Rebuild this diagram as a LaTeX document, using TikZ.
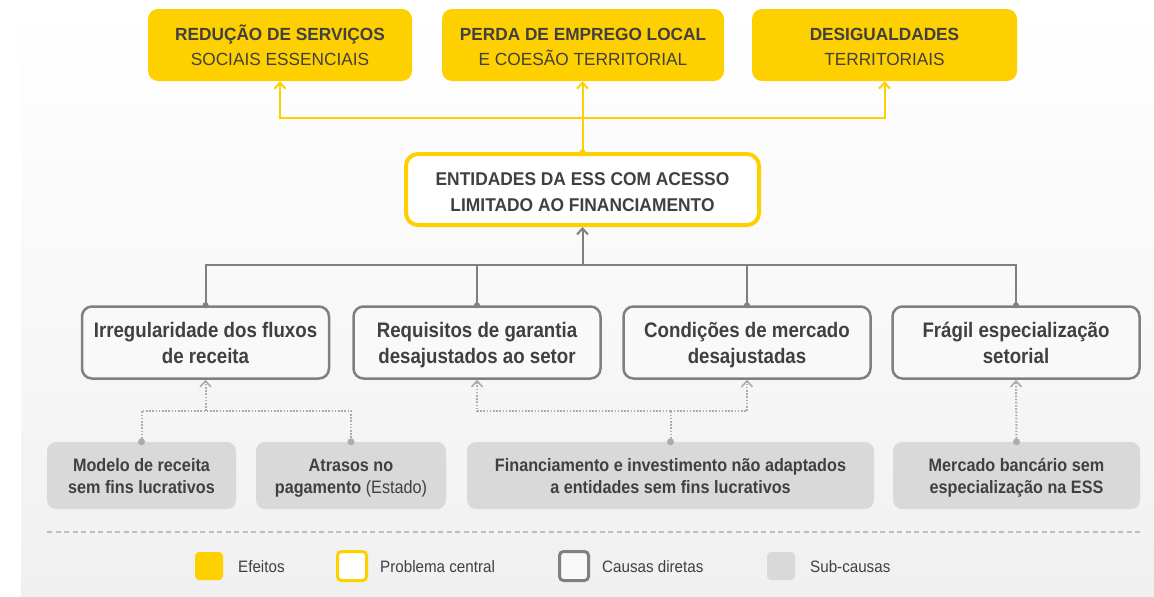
\documentclass[tikz,border=0pt]{standalone}
\usepackage{fontspec}
\setmainfont{Liberation Sans}
\newfontfamily\topf[FakeStretch=0.98]{Liberation Sans}
\newfontfamily\cenf[FakeStretch=0.94]{Liberation Sans}
\newfontfamily\causef[FakeStretch=0.89]{Liberation Sans}
\newfontfamily\subf[FakeStretch=0.9]{Liberation Sans}
\newfontfamily\legf[FakeStretch=0.92]{Liberation Sans}
\usetikzlibrary{arrows.meta}
\definecolor{ylw}{RGB}{255,208,0}
\definecolor{txt}{RGB}{64,64,64}
\definecolor{bord}{RGB}{128,128,128}
\definecolor{subfill}{RGB}{217,217,217}
\definecolor{dotc}{RGB}{172,172,172}
\definecolor{sepc}{RGB}{190,190,190}
\definecolor{bgc}{RGB}{240,240,240}
\newcommand\twoln[2]{\rule{0pt}{\myhtop}#1\\#2\rule[-\mydbot]{0pt}{\mydbot}}
\begin{document}
\begin{tikzpicture}[x=1pt,y=-1pt,
  effect/.style={fill=ylw, rounded corners=10pt, minimum height=72pt, inner sep=0pt,
    align=center, text=txt,
    font=\topf\fontsize{17.6}{25}\selectfont\def\myhtop{17pt}\def\mydbot{2pt}},
  central/.style={draw=ylw, line width=4pt, fill=white, rounded corners=12pt,
    minimum width=353pt, minimum height=71pt, inner sep=0pt, align=center, text=txt,
    font=\cenf\bfseries\fontsize{18.5}{26}\selectfont\def\myhtop{19pt}\def\mydbot{2pt}},
  cause/.style={draw=bord, line width=2.5pt, fill=white!60!bgc, rounded corners=10pt,
    minimum width=247pt, minimum height=72pt, inner sep=0pt, align=center, text=txt,
    font=\causef\bfseries\fontsize{21}{26}\selectfont\def\myhtop{20pt}\def\mydbot{5pt}},
  subc/.style={fill=subfill, rounded corners=9pt, minimum height=67pt, inner sep=0pt,
    align=center, text=txt,
    font=\subf\bfseries\fontsize{18}{22}\selectfont\def\myhtop{18.5pt}\def\mydbot{4.1pt}},
  yline/.style={draw=ylw, line width=2pt},
  yarrow/.style={yline, -{Straight Barb[length=6pt,width=11pt,line width=2pt]}},
  gline/.style={draw=bord, line width=2pt},
  garrow/.style={gline, -{Straight Barb[length=6pt,width=11pt,line width=2pt]}},
  dline/.style={draw=dotc, line width=2pt, dash pattern=on 1.6pt off 1.6pt},
  darrow/.style={dline, -{Straight Barb[length=6pt,width=11pt,line width=1.6pt]}},
  gdot/.style={circle, fill=bord, inner sep=0pt, minimum size=6pt},
  ddot/.style={circle, fill=dotc, inner sep=0pt, minimum size=7pt},
  ydot/.style={circle, fill=ylw, inner sep=0pt, minimum size=6pt},
  legtxt/.style={anchor=base west, inner sep=0pt, text=txt, font=\legf\fontsize{16.5}{19}\selectfont},
  legbox/.style={minimum size=28pt, inner sep=0pt, rounded corners=4pt}
]
\useasboundingbox (0,0) rectangle (1154,597);
\fill[white] (0,0) rectangle (1154,597);
\shade[top color=white, bottom color=bgc, middle color=white!55!bgc] (21,0) rectangle (1154,597);

% effects
\node[effect, minimum width=264pt] (e1) at (280,45) {\twoln{\bfseries REDUÇÃO DE SERVIÇOS}{SOCIAIS ESSENCIAIS}};
\node[effect, minimum width=282pt] (e2) at (583,45) {\twoln{\bfseries PERDA DE EMPREGO LOCAL}{E COESÃO TERRITORIAL}};
\node[effect, minimum width=265pt] (e3) at (884.5,45) {\twoln{\bfseries DESIGUALDADES}{TERRITORIAIS}};

% central problem
\node[central] (c) at (582.5,189.5) {\twoln{ENTIDADES DA ESS COM ACESSO}{LIMITADO AO FINANCIAMENTO}};

% direct causes
\node[cause] (d1) at (205.5,342.5) {\twoln{Irregularidade dos fluxos}{de receita}};
\node[cause] (d2) at (477,342.5) {\twoln{Requisitos de garantia}{desajustados ao setor}};
\node[cause] (d3) at (747,342.5) {\twoln{Condições de mercado}{desajustadas}};
\node[cause] (d4) at (1016,342.5) {\twoln{Frágil especialização}{setorial}};

% sub-causes
\node[subc, minimum width=189pt] (s1) at (141.5,475.5) {\twoln{Modelo de receita}{sem fins lucrativos}};
\node[subc, minimum width=190pt] (s2) at (351,475.5) {\twoln{Atrasos no}{pagamento {\mdseries(Estado)}}};
\node[subc, minimum width=407pt] (s3) at (670.5,475.5) {\twoln{Financiamento e investimento não adaptados}{a entidades sem fins lucrativos}};
\node[subc, minimum width=247pt] (s4) at (1016.5,475.5) {\twoln{Mercado bancário sem}{especialização na ESS}};

% yellow connectors (central -> effects)
\coordinate (yj) at (c.north |- 0,118);
\draw[yarrow] (c.north) -- (c.north |- e2.south);
\draw[yarrow] (yj) -| (e1.south);
\draw[yarrow] (yj) -| (e3.south);
\node[ydot] (yd) at (c.north) {};

% grey connectors (causes -> central)
\coordinate (gj) at (c.south |- 0,265);
\draw[gline] (d1.north) |- (d4.north |- gj) -- (d4.north);
\draw[gline] (d2.north) -- (d2.north |- gj);
\draw[gline] (d3.north) -- (d3.north |- gj);
\draw[garrow] (gj) -- (c.south);
\foreach \n in {d1,d2,d3,d4}{\node[gdot] at (\n.north) {};}

% dotted connectors (sub-causes -> causes)
\coordinate (l1) at (d1.south |- 0,411);
\draw[dline] (s1.north) |- (s2.north |- l1) -- (s2.north);
\draw[darrow] (l1) -- (d1.south);
\draw[dline] (s3.north) -- (s3.north |- l1);
\draw[darrow] (s3.north |- l1) -| (d2.south);
\draw[darrow] (s3.north |- l1) -| (d3.south);
\draw[darrow] (s4.north) -- (d4.south);
\foreach \n in {s1,s2,s3,s4}{\node[ddot] at (\n.north) {};}

% separator
\draw[sepc, line width=1.5pt, dash pattern=on 5pt off 3.5pt] (47,532) -- (1140,532);

% legend
\node[legbox, fill=ylw] (lg1) at (209,566) {};
\node[legtxt] (lt1) at (238,572) {Efeitos};
\node[legbox, draw=ylw, line width=3pt, fill=white, minimum size=29pt] (lg2) at (352,566) {};
\node[legtxt] (lt2) at (380,572) {Problema central};
\node[legbox, draw=bord, line width=3pt, fill=white!60!bgc, minimum size=29pt] (lg3) at (574,566) {};
\node[legtxt] (lt3) at (602,572) {Causas diretas};
\node[legbox, fill=subfill] (lg4) at (781,566) {};
\node[legtxt] (lt4) at (810,572) {Sub-causas};
\end{tikzpicture}
\end{document}
